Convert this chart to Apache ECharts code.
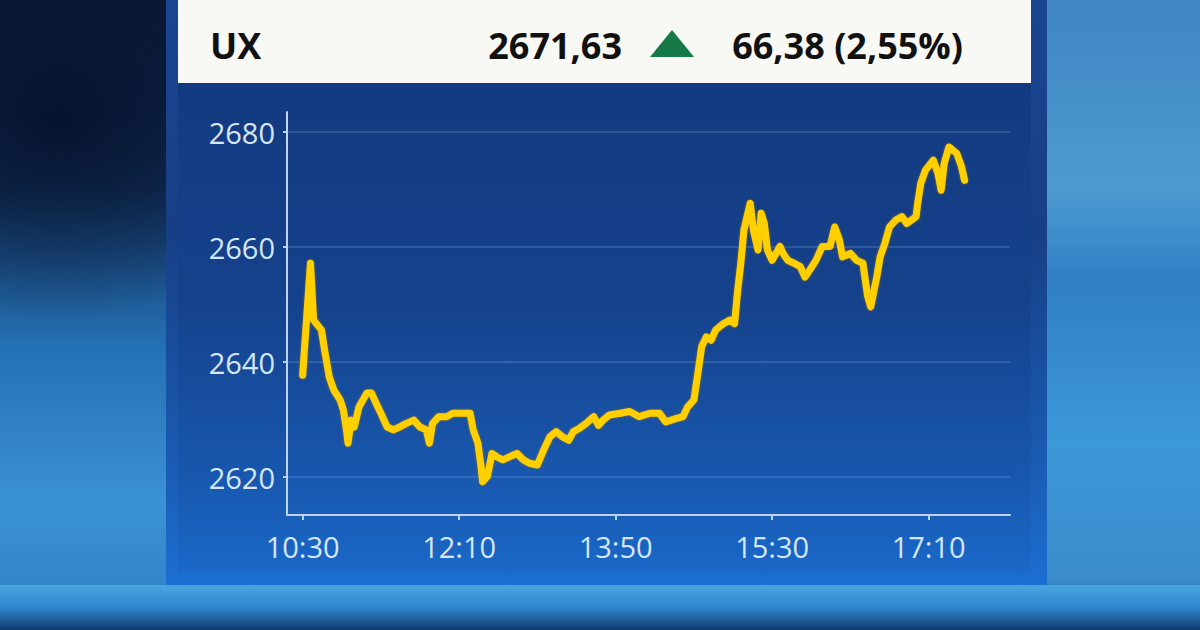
<!DOCTYPE html>
<html>
<head>
<meta charset="utf-8">
<script src="https://cdn.jsdelivr.net/npm/echarts@6/dist/echarts.min.js"></script>
<style>
  html, body { margin: 0; padding: 0; width: 1200px; height: 630px; overflow: hidden; }
  body {
    background:
      radial-gradient(ellipse 260px 200px at 60px 120px, rgba(5,15,40,0.85), rgba(5,15,40,0) 100%),
      linear-gradient(180deg, #0b1a36 0%, #12325e 30%, #2470b4 55%, #3a92d4 80%, #2e7ec4 100%);
  }
  #bgRight {
    position: absolute; left: 1040px; top: 0; width: 160px; height: 630px;
    background: linear-gradient(180deg, #3f86c2 0%, #4d9ad2 30%, #2f7fc4 45%, #3d98d8 70%, #3a8ccc 92%, #0d2c52 100%);
  }
  #bgBottom {
    position: absolute; left: 0; top: 585px; width: 1200px; height: 45px;
    background: linear-gradient(180deg, #4aa6e0 0%, #2f86cc 50%, #123a6a 100%);
  }
  #chart { position: absolute; left: 0; top: 0; width: 1200px; height: 630px; }
</style>
</head>
<body>
<div id="bgRight"></div>
<div id="bgBottom"></div>
<div id="chart"></div>
<script>
// ---- data ----
const symbolName = 'UX';
const lastValue = '2671,63';
const changeText = '66,38 (2,55%)';

// minutes since midnight
const times = [
  630, 635, 637, 642, 644, 647, 650, 654, 656, 658, 659, 661, 663, 666, 671, 674, 677, 680, 684, 688,
  692, 696, 701, 705, 709, 711, 713, 717, 722, 726, 737, 739, 742, 744, 745, 748, 751, 754, 758, 762,
  767, 771, 775, 780, 784, 788, 792, 796, 800, 803, 807, 811, 816, 819, 822, 826, 833, 839, 845, 852,
  858, 862, 869, 873, 876, 880, 882, 885, 888, 891, 894, 899, 903, 906, 908, 910, 912, 916, 918, 921,
  923, 925, 927, 930, 935, 937, 940, 944, 948, 951, 954, 958, 962, 967, 970, 973, 975, 980, 984, 988,
  991, 993, 997, 999, 1002, 1005, 1009, 1013, 1016, 1019, 1022, 1023, 1025, 1028, 1033, 1036, 1038, 1040, 1043, 1048,
  1051, 1053
];
const values = [
  2637.7, 2657.2, 2647.3, 2645.6, 2642.1, 2637.4, 2635.1, 2633.4, 2631.7, 2628.2, 2625.9, 2629.9, 2628.7, 2632.2, 2634.6, 2634.6, 2632.8, 2631.1, 2628.7, 2628.2,
  2628.7, 2629.3, 2629.9, 2628.7, 2628.2, 2625.9, 2629.3, 2630.5, 2630.5, 2631.1, 2631.1, 2628.2, 2625.9, 2621.8, 2619.2, 2620.1, 2624.1, 2623.5, 2623.0, 2623.5,
  2624.1, 2623.0, 2622.4, 2622.1, 2624.7, 2627.0, 2627.9, 2627.0, 2626.4, 2627.9, 2628.5, 2629.3, 2630.5, 2629.0, 2629.9, 2630.8, 2631.1, 2631.4, 2630.5, 2631.1,
  2631.1, 2629.6, 2630.2, 2630.5, 2632.2, 2633.4, 2637.0, 2642.7, 2644.4, 2643.8, 2645.6, 2646.7, 2647.3, 2646.7, 2652.5, 2657.2, 2663.0, 2667.6, 2663.0, 2659.5,
  2665.9, 2664.1, 2659.5, 2657.7, 2660.1, 2658.9, 2657.7, 2657.2, 2656.6, 2654.8, 2656.0, 2657.7, 2660.1, 2660.1, 2663.5, 2661.2, 2658.3, 2658.9, 2657.7, 2657.2,
  2651.5, 2649.6, 2655.0, 2658.3, 2660.6, 2663.5, 2664.7, 2665.3, 2664.1, 2664.7, 2665.3, 2667.6, 2671.1, 2673.4, 2675.1, 2672.8, 2669.9, 2674.6, 2677.4, 2676.3,
  2674.0, 2671.6
];
const xTickValues = [630, 730, 830, 930, 1030];   // 10:30 12:10 13:50 15:30 17:10
const yTickValues = [2620, 2640, 2660, 2680];

function fmtTime(m) {
  const h = Math.floor(m / 60), mm = m % 60;
  return h + ':' + (mm < 10 ? '0' : '') + mm;
}

const chart = echarts.init(document.getElementById('chart'), null, { renderer: 'svg' });
const axisTextColor = '#d6e6fa';
const font = '"Open Sans", "Noto Sans", sans-serif';

chart.setOption({
  backgroundColor: 'transparent',
  animation: false,
  grid: { left: 287, right: 190, top: 112, bottom: 115, containLabel: false },
  xAxis: {
    type: 'value', min: 620, max: 1082,
    axisLine: { show: true, lineStyle: { color: '#bcd4f0', width: 2 } },
    axisTick: { show: true, customValues: xTickValues, length: 5, lineStyle: { color: '#bcd4f0', width: 2 } },
    axisLabel: { customValues: xTickValues, formatter: v => fmtTime(v), color: axisTextColor,
                 fontSize: 29, fontFamily: font, margin: 17 },
    splitLine: { show: false }
  },
  yAxis: {
    type: 'value', min: 2613.4, max: 2683.5,
    axisLine: { show: true, lineStyle: { color: '#bcd4f0', width: 2 } },
    axisTick: { show: true, customValues: yTickValues, length: 4, lineStyle: { color: '#bcd4f0', width: 2 } },
    axisLabel: { customValues: yTickValues, formatter: v => String(Math.round(v)), color: axisTextColor,
                 fontSize: 29, fontFamily: font, margin: 12 },
    splitLine: { show: true, customValues: yTickValues, lineStyle: { color: 'rgba(150,190,240,0.2)', width: 2 } }
  },
  series: [{
    type: 'line',
    data: times.map((t, i) => [t, values[i]]),
    showSymbol: false,
    lineStyle: { color: '#FFCF00', width: 7, join: 'round', cap: 'round',
                 shadowColor: 'rgba(190,130,0,0.7)', shadowBlur: 2 },
    z: 5
  }],
  graphic: [
    { type: 'rect', z: -10, shape: { x: 166, y: 0, width: 881, height: 585 },
      style: { fill: new echarts.graphic.LinearGradient(0, 0, 0, 1, [
        { offset: 0, color: '#1a4590' }, { offset: 0.4, color: '#173f86' },
        { offset: 0.8, color: '#1a5cb4' }, { offset: 1, color: '#1b6fd2' }]) } },
    { type: 'rect', z: -9, shape: { x: 178, y: 83, width: 853, height: 490 },
      style: { fill: new echarts.graphic.LinearGradient(0, 0, 0, 1, [
        { offset: 0, color: '#123a80' }, { offset: 0.45, color: '#15428c' },
        { offset: 0.8, color: '#1857ae' }, { offset: 1, color: '#1a68c8' }]) } },
    { type: 'rect', z: -8, shape: { x: 178, y: 0, width: 853, height: 83 },
      style: { fill: '#f8f8f5' } },
    { type: 'text', z: 10, x: 210, y: 45,
      style: { text: symbolName, font: 'bold 36px ' + font, fill: '#111', verticalAlign: 'middle' } },
    { type: 'text', z: 10, x: 622, y: 45,
      style: { text: lastValue, font: 'bold 36px ' + font, fill: '#111', align: 'right', verticalAlign: 'middle' } },
    { type: 'polygon', z: 10, shape: { points: [[672, 30], [694, 57], [650, 57]] },
      style: { fill: '#157a47' } },
    { type: 'text', z: 10, x: 963, y: 45,
      style: { text: changeText, font: 'bold 36px ' + font, fill: '#111', align: 'right', verticalAlign: 'middle' } }
  ]
});
</script>
</body>
</html>
